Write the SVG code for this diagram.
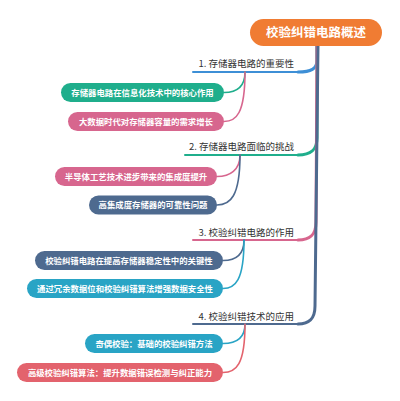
<svg xmlns="http://www.w3.org/2000/svg" width="400" height="401" viewBox="0 0 400 401">
<style>
text{font-family:"Noto Sans CJK SC","Liberation Sans",sans-serif}
.root{font-size:12.5px;font-weight:bold;fill:#fff}
.l1{font-size:9.5px;fill:#333}
.l2{font-size:8.4px;font-weight:bold;fill:#fff}
.br{fill:none;stroke-linecap:round}
.tr{stroke-width:3}
.ul{stroke-width:2}
.ch{stroke-width:1.6}
</style>
<rect width="400" height="401" fill="#fff"/>
<g id="connectors">
<path class="br tr" d="M317,44 L317,60 C317,69 311,72 298,72" stroke="#3D8FD6"/>
<path class="br tr" d="M317,44 L317,138 C317,150 311,155 298,155" stroke="#1FAE8C"/>
<path class="br tr" d="M317,44 L316,222 C316,235 310,240 298,240" stroke="#D7668E"/>
<path class="br tr" d="M318,44 L315,306 C315,319 309,324 298,324" stroke="#4E6A8F"/>
<path class="br ul" d="M193,72 L298,72" stroke="#3D8FD6"/>
<path class="br ul" d="M185,155 L298,155" stroke="#1FAE8C"/>
<path class="br ul" d="M193,240 L298,240" stroke="#D7668E"/>
<path class="br ul" d="M193,324 L298,324" stroke="#4E6A8F"/>
<path class="br ch" d="M245,72 C245,88 236,92.5 224,92.5" stroke="#1FAE8C"/>
<path class="br ch" d="M245,72 C245,114 236,121.5 224,121.5" stroke="#D7668E"/>
<path class="br ch" d="M240,155 C240,170 230,176.5 217,176.5" stroke="#D7668E"/>
<path class="br ch" d="M240,155 C240,197 230,205 217,205" stroke="#4E6A8F"/>
<path class="br ch" d="M244,240 C244,255 235,260.5 223,260.5" stroke="#4E6A8F"/>
<path class="br ch" d="M244,240 C244,281 235,288.5 223,288.5" stroke="#29A4C5"/>
<path class="br ch" d="M245,324 C245,338 236,343.5 223,343.5" stroke="#29A4C5"/>
<path class="br ch" d="M245,324 C245,365 236,372.5 223,372.5" stroke="#E3636D"/>
</g>
<g id="root">
<rect x="250" y="19" width="132" height="27" rx="13.5" fill="#F07C33"/>
<text class="root" x="316" y="37" text-anchor="middle">校验纠错电路概述</text>
</g>
<g id="b1"><text class="l1" x="294" y="67" text-anchor="end">1. 存储器电路的重要性</text></g>
<g id="b2"><text class="l1" x="294" y="150" text-anchor="end">2. 存储器电路面临的挑战</text></g>
<g id="b3"><text class="l1" x="294" y="235.5" text-anchor="end">3. 校验纠错电路的作用</text></g>
<g id="b4"><text class="l1" x="294" y="319.5" text-anchor="end">4. 校验纠错技术的应用</text></g>
<g id="c11"><rect x="61" y="83" width="163" height="19" rx="9.5" fill="#1FAE8C"/><text class="l2" x="142.5" y="95.5" text-anchor="middle">存储器电路在信息化技术中的核心作用</text></g>
<g id="c12"><rect x="68" y="112" width="156" height="19" rx="9.5" fill="#D7668E"/><text class="l2" x="146" y="124.5" text-anchor="middle">大数据时代对存储器容量的需求增长</text></g>
<g id="c21"><rect x="55" y="167" width="162" height="19" rx="9.5" fill="#D7668E"/><text class="l2" x="136" y="179.5" text-anchor="middle">半导体工艺技术进步带来的集成度提升</text></g>
<g id="c22"><rect x="89" y="195.5" width="128" height="19" rx="9.5" fill="#4E6A8F"/><text class="l2" x="153" y="208" text-anchor="middle">高集成度存储器的可靠性问题</text></g>
<g id="c31"><rect x="35" y="251" width="188" height="19" rx="9.5" fill="#4E6A8F"/><text class="l2" x="129" y="263.5" text-anchor="middle">校验纠错电路在提高存储器稳定性中的关键性</text></g>
<g id="c32"><rect x="27" y="279" width="196" height="19" rx="9.5" fill="#29A4C5"/><text class="l2" x="125" y="291.5" text-anchor="middle">通过冗余数据位和校验纠错算法增强数据安全性</text></g>
<g id="c41"><rect x="85" y="334" width="138" height="19" rx="9.5" fill="#29A4C5"/><text class="l2" x="154" y="346.5" text-anchor="middle">奇偶校验：基础的校验纠错方法</text></g>
<g id="c42"><rect x="17" y="363" width="206" height="19" rx="9.5" fill="#E3636D"/><text class="l2" x="120" y="375.5" text-anchor="middle">高级校验纠错算法：提升数据错误检测与纠正能力</text></g>
</svg>
